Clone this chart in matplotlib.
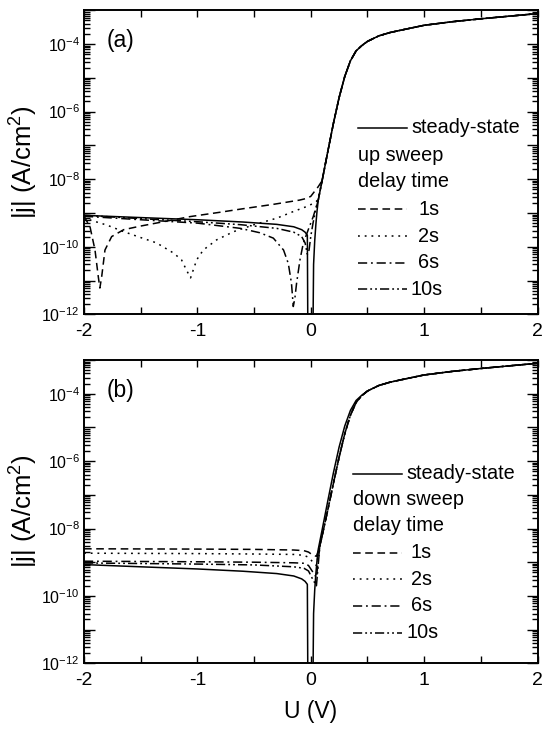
import numpy as np
import matplotlib
matplotlib.use("Agg")
import matplotlib.pyplot as plt
from matplotlib.ticker import LogLocator, FixedLocator, FuncFormatter, NullFormatter
from matplotlib.lines import Line2D

plt.rcParams['font.family'] = ['Liberation Sans', 'DejaVu Sans']
plt.rcParams['mathtext.fontset'] = 'custom'
plt.rcParams['mathtext.rm'] = 'Liberation Sans'
plt.rcParams['mathtext.it'] = 'Liberation Sans:italic'
plt.rcParams['mathtext.bf'] = 'Liberation Sans:bold'
plt.rcParams['axes.unicode_minus'] = False

# ---------------- data ----------------
# common forward-bias tail (all curves coincide here)
tail_U = [0.1, 0.15, 0.2, 0.25, 0.3, 0.35, 0.4, 0.45, 0.5, 0.6, 0.7, 0.8, 1.0, 1.25, 1.5, 1.75, 2.0]
tail_J = [9e-9, 6.5e-8, 4.5e-7, 2.6e-6, 1.1e-5, 3.2e-5, 6.3e-5, 9e-5, 1.2e-4, 1.75e-4,
          2.2e-4, 2.6e-4, 3.6e-4, 4.6e-4, 5.6e-4, 6.7e-4, 8e-4]

# steady state (both panels)
steady_head_U = [-2.0, -1.5, -1.0, -0.6, -0.3, -0.15, -0.08, -0.05, -0.03, -0.025,
                 0.018, 0.025, 0.035, 0.045, 0.055, 0.066]
steady_head_J = [8.5e-10, 7.3e-10, 6.3e-10, 5.4e-10, 4.6e-10, 3.9e-10, 3.2e-10, 2.7e-10, 2.2e-10, 1e-13,
                 1e-13, 3e-11, 1.5e-10, 4.5e-10, 1.1e-9, 2.4e-9]

# (a) up sweep, delay times
up_1s_U = [-2.0, -1.947, -1.903, -1.874, -1.86, -1.844, -1.815, -1.756, -1.65, -1.5, -1.3,
           -1.065, -0.8, -0.62, -0.33, -0.1, -0.036, 0.0, 0.037, 0.066]
up_1s_J = [8e-10, 3.9e-10, 8e-11, 1.3e-11, 6e-12, 1.3e-11, 8e-11, 2e-10, 3.2e-10, 4.1e-10, 5.5e-10,
           7.8e-10, 1.05e-9, 1.3e-9, 1.8e-9, 2.4e-9, 2.7e-9, 3.1e-9, 4.5e-9, 6e-9]

up_2s_U = [-2.0, -1.947, -1.8, -1.65, -1.506, -1.36, -1.21, -1.14, -1.095, -1.06, -1.006, -0.948,
           -0.83, -0.68, -0.5, -0.3, -0.154, -0.036, 0.02, 0.05, 0.066]
up_2s_J = [8e-10, 6.2e-10, 4.4e-10, 2.8e-10, 1.9e-10, 1.3e-10, 6.5e-11, 4.1e-11, 2e-11, 1.2e-11,
           4.1e-11, 8e-11, 1.6e-10, 2.8e-10, 4.5e-10, 7e-10, 1.1e-9, 1.55e-9, 1.9e-9, 2.2e-9, 2.6e-9]

up_6s_U = [-2.0, -1.5, -1.0, -0.62, -0.45, -0.33, -0.24, -0.198, -0.17, -0.154, -0.14, -0.125,
           -0.095, -0.066, -0.022, 0.022, 0.045, 0.066]
up_6s_J = [8e-10, 6.3e-10, 5e-10, 3.5e-10, 2.6e-10, 1.8e-10, 8e-11, 3.2e-11, 8.3e-12, 1.7e-12,
           3e-12, 8.3e-12, 4.1e-11, 1.26e-10, 3.2e-10, 7.8e-10, 1.4e-9, 2.4e-9]

up_10s_U = [-2.0, -1.5, -1.0, -0.62, -0.3, -0.15, -0.08, -0.05, -0.03, -0.015, 0.0, 0.02, 0.045, 0.066]
up_10s_J = [8.5e-10, 6.8e-10, 5.5e-10, 4.5e-10, 3.5e-10, 2.7e-10, 2e-10, 1.3e-10, 6e-11, 8e-11,
            2e-10, 5e-10, 1.3e-9, 2.4e-9]

# (b) down sweep, delay times
down_head_U = [-2.0, -1.0, -0.5, -0.15, -0.06, -0.02, 0.02, 0.05]
down_1s_J = [2.5e-9, 2.45e-9, 2.4e-9, 2.3e-9, 2.2e-9, 2.0e-9, 1.6e-9, 1.5e-9]
down_2s_J = [1.85e-9, 1.8e-9, 1.75e-9, 1.7e-9, 1.6e-9, 1.4e-9, 1.0e-9, 8e-10]
down_6s_J = [1.07e-9, 1.03e-9, 1.0e-9, 9.6e-10, 9.3e-10, 8e-10, 5e-10, 3.5e-10]
down_10s_J = [9.5e-10, 8.8e-10, 8.3e-10, 7.3e-10, 6.6e-10, 5.5e-10, 3e-10, 2e-10]
rise_b_U = [0.08, 0.1, 0.15, 0.2, 0.25, 0.3, 0.35, 0.4, 0.45]
rise_b_J = [3e-9, 6e-9, 3.5e-8, 2.2e-7, 1.3e-6, 6.5e-6, 2.3e-5, 5.5e-5, 8.7e-5]
tail_b_U = tail_U[8:]
tail_b_J = tail_J[8:]

labels = ['1s', '2s', '6s', '10s']
# ---------------- styles ----------------
LW = 1.1
styles = {
    'steady': dict(ls='-'),
    '1s': dict(ls=(0, (5.0, 3.0))),
    '2s': dict(ls=(0, (1.2, 3.2))),
    '6s': dict(ls=(0, (6.0, 2.5, 1.2, 2.5))),
    '10s': dict(ls=(0, (6.0, 2.0, 1.2, 2.0, 1.2, 2.0))),
}

fig = plt.figure(figsize=(5.42, 7.31), dpi=100)
L, R = 84 / 542, 537.5 / 542
axa = fig.add_axes([L, 1 - 314.3 / 731, R - L, (314.3 - 10.3) / 731])
axb = fig.add_axes([L, 1 - 663.3 / 731, R - L, (663.3 - 360) / 731])


def style_axis(ax):
    ax.set_yscale('log')
    ax.set_xlim(-2, 2)
    ax.set_ylim(1e-12, 1e-3)
    ax.xaxis.set_major_locator(FixedLocator([-2, -1, 0, 1, 2]))
    ax.xaxis.set_minor_locator(FixedLocator([-1.5, -0.5, 0.5, 1.5]))
    ax.yaxis.set_major_locator(LogLocator(base=10, numticks=20))
    ax.yaxis.set_minor_locator(LogLocator(base=10, subs=np.arange(2, 10), numticks=20))
    ax.yaxis.set_minor_formatter(NullFormatter())

    def fmt(v, p):
        e = int(round(np.log10(v)))
        if e % 2 == 0 and e <= -4:
            return r'$\mathregular{10^{%d}}$' % e
        return ''
    ax.yaxis.set_major_formatter(FuncFormatter(fmt))
    ax.tick_params(which='both', direction='in', top=True, right=True, width=1.0)
    ax.tick_params(axis='y', which='major', length=8, labelsize=11.5, pad=3)
    ax.tick_params(axis='y', which='minor', length=4)
    ax.tick_params(axis='x', which='both', length=5, labelsize=14, pad=6)
    for s in ax.spines.values():
        s.set_linewidth(1.4)
    ax.set_ylabel('|j| (A/cm$^{2}$)', fontsize=18.5, labelpad=1)


style_axis(axa)
style_axis(axb)

# panel (a)
axa.plot(steady_head_U + tail_U, steady_head_J + tail_J, color='k', lw=LW, **styles['steady'])
for name, U, J in [('1s', up_1s_U, up_1s_J), ('2s', up_2s_U, up_2s_J),
                   ('6s', up_6s_U, up_6s_J), ('10s', up_10s_U, up_10s_J)]:
    axa.plot(U + tail_U, J + tail_J, color='k', lw=LW, **styles[name])

# panel (b)
axb.plot(steady_head_U + tail_U, steady_head_J + tail_J, color='k', lw=LW, **styles['steady'])
for name, J in [('1s', down_1s_J), ('2s', down_2s_J), ('6s', down_6s_J), ('10s', down_10s_J)]:
    axb.plot(down_head_U + rise_b_U + tail_b_U, J + rise_b_J + tail_b_J, color='k', lw=LW, **styles[name])

axb.set_xlabel('U (V)', fontsize=16.5, labelpad=8)

# panel labels
axa.text(0.05, 0.902, '(a)', transform=axa.transAxes, fontsize=16.5, va='center', ha='left')
axb.text(0.05, 0.90, '(b)', transform=axb.transAxes, fontsize=16.5, va='center', ha='left')


def custom_legend(ax, x0, x1, ys, sweep_text, textx_steady, textx_small, textx_10):
    fs = 14.3
    ax.add_line(Line2D([x0, x1], [ys[0], ys[0]], transform=ax.transAxes, color='k', lw=LW, **styles['steady']))
    ax.text(textx_steady, ys[0], 'steady-state', transform=ax.transAxes, fontsize=fs, va='center', ha='left')
    ax.text(x0, ys[1], sweep_text, transform=ax.transAxes, fontsize=fs, va='center', ha='left')
    ax.text(x0, ys[2], 'delay time', transform=ax.transAxes, fontsize=fs, va='center', ha='left')
    for i, name in enumerate(labels):
        y = ys[3 + i]
        ax.add_line(Line2D([x0, x1], [y, y], transform=ax.transAxes, color='k', lw=LW, **styles[name]))
        tx = textx_10 if name == '10s' else textx_small
        ax.text(tx, y, name, transform=ax.transAxes, fontsize=fs, va='center', ha='left')


custom_legend(axa, 0.604, 0.712, [0.613, 0.521, 0.437, 0.346, 0.256, 0.169, 0.083],
              'up sweep', 0.723, 0.737, 0.719)
custom_legend(axb, 0.5925, 0.702, [0.625, 0.540, 0.455, 0.364, 0.277, 0.189, 0.101],
              'down sweep', 0.711, 0.72, 0.711)

fig.savefig('out.png', dpi=100)
